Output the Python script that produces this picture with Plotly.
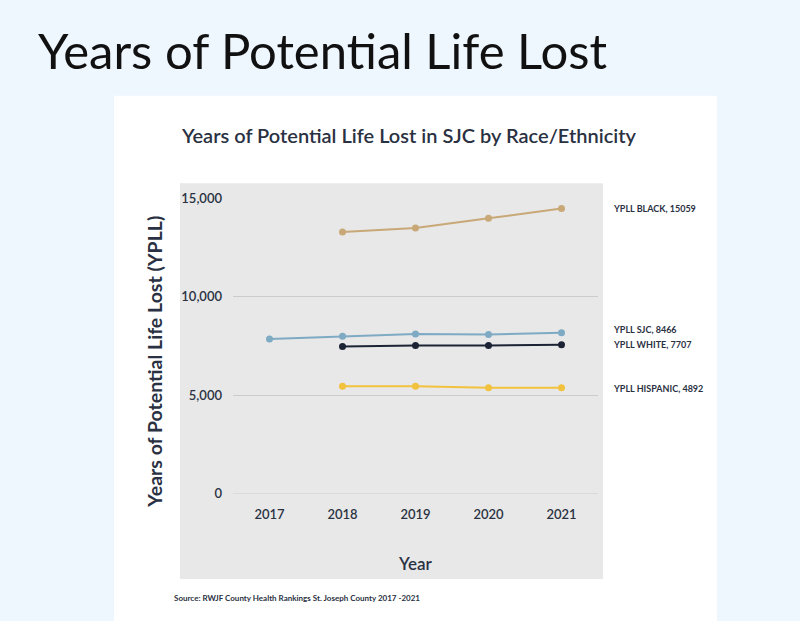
import plotly.graph_objects as go

years = [2017, 2018, 2019, 2020, 2021]
years_sub = [2018, 2019, 2020, 2021]
ypll_black = [13290, 13490, 13980, 14480]
ypll_sjc = [7860, 7990, 8110, 8090, 8170]
ypll_white = [7480, 7530, 7530, 7570]
ypll_hispanic = [5460, 5460, 5375, 5375]
label_names = ["YPLL BLACK", "YPLL SJC", "YPLL WHITE", "YPLL HISPANIC"]
label_values = [15059, 8466, 7707, 4892]
y_ticks = [0, 5000, 10000, 15000]
y_tick_text = ["0", "5,000", "10,000", "15,000"]

W, H = 800, 621
def px(x):
    return x / W
def py(y):
    return (H - y) / H

NAVY = "#2a3142"
FONT = "Lato"

fig = go.Figure()
series = [
    (years_sub, ypll_black, "#c9a877"),
    (years, ypll_sjc, "#7eaac4"),
    (years_sub, ypll_white, "#1b2335"),
    (years_sub, ypll_hispanic, "#f2c23e"),
]
for xs, ys, col in series:
    fig.add_trace(go.Scatter(x=xs, y=ys, mode="lines+markers",
                             line=dict(color=col, width=2),
                             marker=dict(color=col, size=7),
                             showlegend=False, cliponaxis=False))

shapes = [
    dict(type="rect", xref="paper", yref="paper", x0=px(114), x1=px(717), y0=-0.1, y1=py(90),
         fillcolor="white", line=dict(width=0), layer="below"),
    dict(type="rect", xref="paper", yref="paper", x0=px(180), x1=px(603), y0=py(586), y1=py(180),
         fillcolor="#e8e8e8", line=dict(width=0), layer="below"),
]

annotations = [
    dict(text="Years of Potential Life Lost", xref="paper", yref="paper", x=px(36), y=py(43),
         xanchor="left", yanchor="middle", showarrow=False,
         font=dict(family=FONT, size=49, color="#111111")),
    dict(text="Years of Potential Life Lost in SJC by Race/Ethnicity", xref="paper", yref="paper",
         x=px(179), y=py(130), xanchor="left", yanchor="middle", showarrow=False,
         font=dict(family=FONT, size=20, color=NAVY, weight=600)),
    dict(text="Years of Potential Life Lost (YPLL)", xref="paper", yref="paper",
         x=px(155), y=py(363), xanchor="center", yanchor="middle", textangle=-90, showarrow=False,
         font=dict(family=FONT, size=19.5, color=NAVY, weight=700)),
    dict(text="Source: RWJF County Health Rankings St. Joseph County 2017 -2021", xref="paper", yref="paper",
         x=px(172), y=py(606), xanchor="left", yanchor="middle", showarrow=False,
         font=dict(family=FONT, size=8, color=NAVY, weight=700)),
]
last_vals = [ypll_black[-1], ypll_sjc[-1], ypll_white[-1], ypll_hispanic[-1]]
shifts = [0, 3, 0, -1]
for name, val, yv, sh in zip(label_names, label_values, last_vals, shifts):
    annotations.append(dict(text=f"{name}, {val}", xref="paper", yref="y", x=px(611), y=yv,
                            yshift=sh, xanchor="left", yanchor="middle", showarrow=False,
                            font=dict(family=FONT, size=9, color=NAVY, weight=700)))

fig.update_layout(
    width=W, height=H,
    margin=dict(l=0, r=0, t=0, b=0),
    paper_bgcolor="#eef6fe",
    plot_bgcolor="rgba(0,0,0,0)",
    shapes=shapes,
    annotations=annotations,
    xaxis=dict(domain=[px(233), px(598)], range=[2016.5, 2021.5], tickmode="array",
               tickvals=years, ticktext=[str(y) for y in years], showgrid=False, zeroline=False,
               showline=False, ticks="", ticklabelstandoff=11,
               tickfont=dict(family=FONT, size=13, color=NAVY, weight=600),
               title=dict(text="Year", standoff=37, font=dict(family=FONT, size=17, color=NAVY, weight=600))),
    yaxis=dict(domain=[py(498.6), py(195.3)], range=[0, 15000], tickmode="array",
               tickvals=y_ticks, ticktext=y_tick_text, showgrid=True, gridcolor="#cccccc",
               gridwidth=1, zeroline=True, zerolinecolor="#dadada", zerolinewidth=1,
               showline=False, ticks="", ticklabelstandoff=10,
               tickfont=dict(family=FONT, size=13, color=NAVY, weight=600)),
)

fig.write_html("out.html")
